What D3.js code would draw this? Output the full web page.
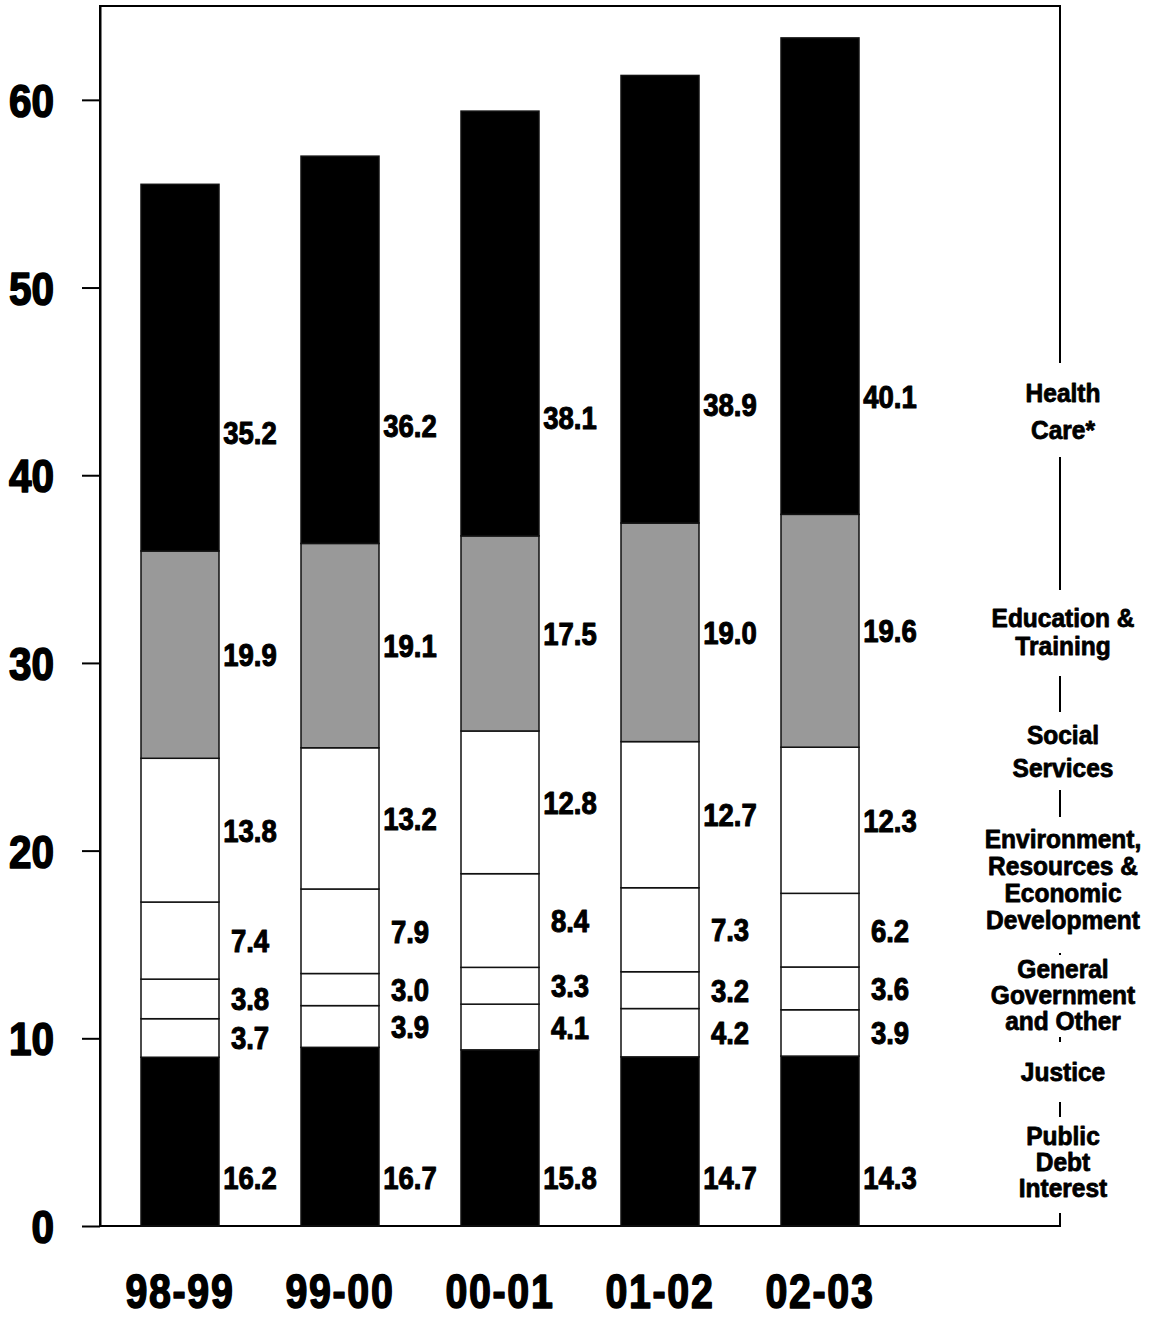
<!DOCTYPE html>
<html>
<head>
<meta charset="utf-8">
<script src="https://cdn.jsdelivr.net/npm/d3@7"></script>
<style>
  html, body { margin: 0; padding: 0; background: #fff; }
  svg text { font-family: 'Liberation Sans', Arial, sans-serif; font-weight: bold; fill: #000; stroke: #000; stroke-linejoin: round; }
</style>
</head>
<body>
<svg id="chart" width="1151" height="1319"></svg>
<script>
// Fiscal years and total spending ($ billions) per year
const years = ["98-99", "99-00", "00-01", "01-02", "02-03"];
const totals = [55.5, 57.0, 59.4, 61.3, 63.3];

// Spending categories, stacked bottom to top
const categories = [
  "Public Debt Interest",
  "Justice",
  "General Government and Other",
  "Environment, Resources & Economic Development",
  "Social Services",
  "Education & Training",
  "Health Care*"
];

// Share of each year's total (%), one array per category
const publicDebt   = [16.2, 16.7, 15.8, 14.7, 14.3];
const justice      = [3.7, 3.9, 4.1, 4.2, 3.9];
const generalGov   = [3.8, 3.0, 3.3, 3.2, 3.6];
const environment  = [7.4, 7.9, 8.4, 7.3, 6.2];
const socialServ   = [13.8, 13.2, 12.8, 12.7, 12.3];
const education    = [19.9, 19.1, 17.5, 19.0, 19.6];
const healthCare   = [35.2, 36.2, 38.1, 38.9, 40.1];

const shares = [publicDebt, justice, generalGov, environment, socialServ, education, healthCare];

const yTicks = [0, 10, 20, 30, 40, 50, 60];

// Legend text lines shown beside the plot, bottom to top
const legendLines = [
  ["Public", "Debt", "Interest"],
  ["Justice"],
  ["General", "Government", "and Other"],
  ["Environment,", "Resources &", "Economic", "Development"],
  ["Social", "Services"],
  ["Education &", "Training"],
  ["Health", "Care*"]
];

// ---- styling / layout ----
const fills = ["#000", "#fff", "#fff", "#fff", "#fff", "#999999", "#000"];
// share label placement: null = segment middle, number = offset (axis units) above segment bottom
const labelLift = [2.6, null, null, null, null, null, 6.3];
// legend block layout: first-line centre, line spacing, knockout extents (px)
const legendLayout = [
  { y: 1136, lh: 26, top: 1117, bottom: 1213 },
  { y: 1072, lh: 26, top: 1042, bottom: 1102 },
  { y: 969,  lh: 26, top: 955,  bottom: 1037 },
  { y: 839,  lh: 27, top: 817,  bottom: 953 },
  { y: 735,  lh: 33, top: 712,  bottom: 790 },
  { y: 618,  lh: 28, top: 590,  bottom: 676 },
  { y: 393,  lh: 37, top: 363,  bottom: 457 }
];
// horizontal squeeze that gives the bold face a condensed look
const squeeze = { tick: 0.88, share: 0.86, year: 0.82, legend: 0.98 };

const svg = d3.select("#chart");
const plot = { left: 100, right: 1060, top: 6, bottom: 1226 };

const y = d3.scaleLinear().domain([0, 65]).range([plot.bottom, plot.top]);
const x = d3.scaleBand().domain(years).range([100, 900])
  .paddingInner(0.5125).paddingOuter(0.25625);

// Build stacked rows: each segment's value is its share of the year's total
const rows = years.map((yr, i) => {
  const row = { year: yr, total: totals[i] };
  categories.forEach((c, k) => { row[c] = totals[i] * shares[k][i] / 100; });
  return row;
});
const series = d3.stack().keys(categories)(rows);

// Frame
svg.append("rect")
  .attr("x", plot.left).attr("y", plot.top)
  .attr("width", plot.right - plot.left).attr("height", plot.bottom - plot.top)
  .attr("fill", "none").attr("stroke", "#000").attr("stroke-width", 2);

// Left axis
const yAxis = d3.axisLeft(y).tickValues(yTicks).tickSize(18).tickSizeOuter(0)
  .tickPadding(27).tickFormat(d3.format("d"));
const gy = svg.append("g").attr("transform", `translate(${plot.left},0)`).call(yAxis);
gy.select(".domain").attr("stroke", "#000").attr("stroke-width", 2);
gy.selectAll(".tick line").attr("stroke", "#000").attr("stroke-width", 2);
gy.selectAll(".tick text")
  .attr("x", null).attr("dy", null)
  .attr("transform", `translate(-46,16.5) scale(${squeeze.tick},1)`)
  .attr("font-size", 46)
  .attr("stroke-width", 1.6)
  .style("font-family", "'Liberation Sans', Arial, sans-serif")
  .style("font-weight", "bold").attr("fill", "#000");

// Bars
const layers = svg.append("g").selectAll("g").data(series).join("g")
  .attr("fill", (d, k) => fills[k]);
layers.selectAll("rect").data(d => d).join("rect")
  .attr("x", d => x(d.data.year))
  .attr("width", x.bandwidth())
  .attr("y", d => y(d[1]))
  .attr("height", d => y(d[0]) - y(d[1]))
  .attr("stroke", "#111").attr("stroke-width", 1.5);

// Share labels beside each segment
const shareSize = 32;
series.forEach((s, k) => {
  svg.append("g").selectAll("text").data(s).join("text")
    .attr("transform", d => {
      const cx = x(d.data.year) + x.bandwidth() + 31;
      const v = labelLift[k] === null ? (d[0] + d[1]) / 2 : d[0] + labelLift[k];
      const cy = y(v) + shareSize * 0.36;
      return `translate(${cx},${cy}) scale(${squeeze.share},1)`;
    })
    .attr("text-anchor", "middle")
    .attr("font-size", shareSize)
    .attr("stroke-width", 1.1)
    .text((d, i) => shares[k][i].toFixed(1));
});

// Year labels
svg.append("g").selectAll("text").data(years).join("text")
  .attr("transform", d => `translate(${x(d) + x.bandwidth() / 2},1308) scale(${squeeze.year},1)`)
  .attr("text-anchor", "middle")
  .attr("font-size", 48)
  .attr("letter-spacing", 2)
  .attr("stroke-width", 1.6)
  .text(d => d);

// Legend blocks on the right edge, knocking out the frame line
const legend = svg.append("g");
legendLayout.forEach((L, k) => {
  legend.append("rect")
    .attr("x", plot.right - 6).attr("y", L.top)
    .attr("width", 12).attr("height", L.bottom - L.top)
    .attr("fill", "#fff");
  legend.append("g").selectAll("text").data(legendLines[k]).join("text")
    .attr("transform", (d, j) => `translate(1063,${L.y + j * L.lh + 9}) scale(${squeeze.legend},1)`)
    .attr("text-anchor", "middle")
    .attr("font-size", 25)
    .attr("stroke-width", 0.8)
    .text(d => d);
});
</script>
</body>
</html>
